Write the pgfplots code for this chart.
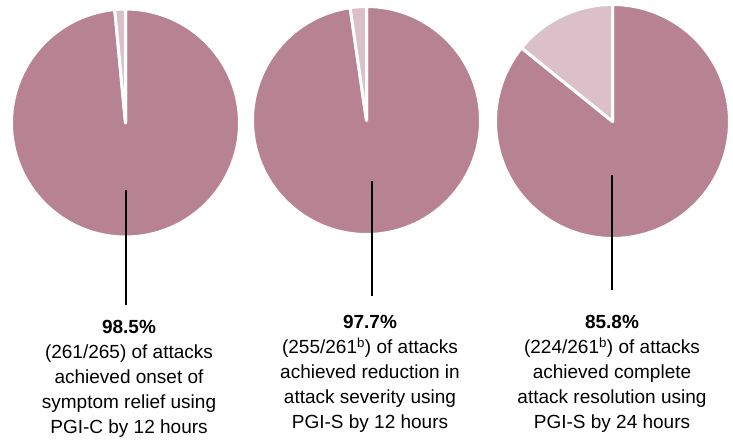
\documentclass[border=0pt]{standalone}
\usepackage{fontspec}
\setmainfont{Liberation Sans}
\usepackage{pgfplots}
\pgfplotsset{compat=1.18}
\definecolor{pieMain}{RGB}{183,131,147}
\definecolor{pieLight}{RGB}{220,192,201}
\begin{document}
\begin{tikzpicture}
\useasboundingbox (0,0) rectangle (733pt,440pt);
\begin{axis}[
  at={(0,0)}, anchor=south west,
  scale only axis, width=733pt, height=440pt,
  xmin=0, xmax=733, ymin=0, ymax=440,
  hide axis, clip=false,
]
% Pie 1: 261/265
\fill[pieMain, draw=white, line width=3pt, line join=round]
  (axis cs:125.5,317) -- ++({90+360*4/265}:114pt) arc[start angle={90+360*4/265}, end angle=450, radius=114pt] -- cycle;
\fill[pieLight, draw=white, line width=3pt, line join=round]
  (axis cs:125.5,317) -- ++(90:114pt) arc[start angle=90, end angle={90+360*4/265}, radius=114pt] -- cycle;
% Pie 2: 255/261
\fill[pieMain, draw=white, line width=3pt, line join=round]
  (axis cs:366.5,319.5) -- ++({90+360*6/261}:114pt) arc[start angle={90+360*6/261}, end angle=450, radius=114pt] -- cycle;
\fill[pieLight, draw=white, line width=3pt, line join=round]
  (axis cs:366.5,319.5) -- ++(90:114pt) arc[start angle=90, end angle={90+360*6/261}, radius=114pt] -- cycle;
% Pie 3: 224/261
\fill[pieMain, draw=white, line width=3pt, line join=round]
  (axis cs:612.5,318.5) -- ++({90+360*37/261}:117pt) arc[start angle={90+360*37/261}, end angle=450, radius=117pt] -- cycle;
\fill[pieLight, draw=white, line width=3pt, line join=round]
  (axis cs:612.5,318.5) -- ++(90:117pt) arc[start angle=90, end angle={90+360*37/261}, radius=117pt] -- cycle;
% leader lines
\draw[black, line width=2pt] (axis cs:125.7,250) -- (axis cs:125.7,135);
\draw[black, line width=2pt] (axis cs:371.7,259) -- (axis cs:371.7,144);
\draw[black, line width=2pt] (axis cs:612.3,265) -- (axis cs:612.3,150);
% labels
\node[anchor=north, align=center, inner sep=0pt, font=\fontsize{19pt}{25pt}\selectfont] at (axis cs:129,119.5)
  {\textbf{98.5\%}\\(261/265) of attacks\\achieved onset of\\symptom relief using\\PGI-C by 12 hours};
\node[anchor=north, align=center, inner sep=0pt, font=\fontsize{19pt}{25pt}\selectfont] at (axis cs:370,125)
  {\textbf{97.7\%}\\(255/261\textsuperscript{b}) of attacks\\achieved reduction in\\attack severity using\\PGI-S by 12 hours};
\node[anchor=north, align=center, inner sep=0pt, font=\fontsize{19pt}{25pt}\selectfont] at (axis cs:612,124.5)
  {\textbf{85.8\%}\\(224/261\textsuperscript{b}) of attacks\\achieved complete\\attack resolution using\\PGI-S by 24 hours};
\end{axis}
\end{tikzpicture}
\end{document}
